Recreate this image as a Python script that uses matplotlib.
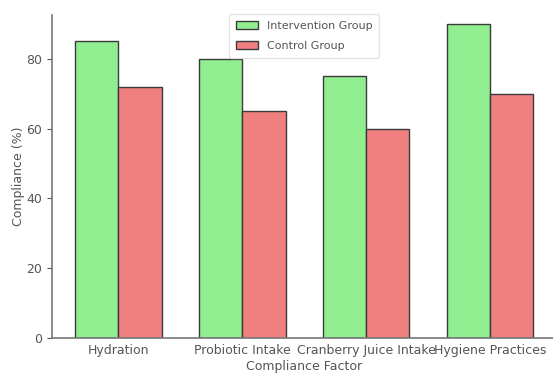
import matplotlib.pyplot as plt
import numpy as np

factors = ["Hydration", "Probiotic Intake", "Cranberry Juice Intake", "Hygiene Practices"]
intervention = [85, 80, 75, 90]
control = [72, 65, 60, 70]

plt.rcParams['font.family'] = ['DejaVu Sans']
text_color = "#555555"

fig = plt.figure(figsize=(5.53, 3.77), dpi=100)
ax = fig.add_axes([0.094, 0.103, 0.912, 0.857])

x = np.arange(len(factors))
width = 0.35
ax.bar(x - width / 2, intervention, width, color="#90EE90", edgecolor="#3a3a3a",
       linewidth=1, label="Intervention Group")
ax.bar(x + width / 2, control, width, color="#F08080", edgecolor="#3a3a3a",
       linewidth=1, label="Control Group")

ax.set_xticks(x)
ax.set_xticklabels(factors, fontsize=9, color=text_color)
ax.set_ylim(0, 92.5)
ax.set_yticks([0, 20, 40, 60, 80])
ax.tick_params(axis='y', labelsize=9, colors=text_color)
ax.tick_params(axis='x', length=0, pad=4)
ax.set_xlabel("Compliance Factor", fontsize=9, color=text_color, labelpad=2)
ax.set_ylabel("Compliance (%)", fontsize=9, color=text_color, labelpad=1)

for side in ["top", "right"]:
    ax.spines[side].set_visible(False)
for side in ["left", "bottom"]:
    ax.spines[side].set_color("#777777")
    ax.spines[side].set_linewidth(1.2)

leg = ax.legend(loc="upper center", bbox_to_anchor=(0.5, 1.02), fontsize=8,
                frameon=True, labelcolor=text_color, labelspacing=0.9,
                borderpad=0.6)
leg.get_frame().set_edgecolor("#dddddd")

fig.savefig("out.png", dpi=100)
